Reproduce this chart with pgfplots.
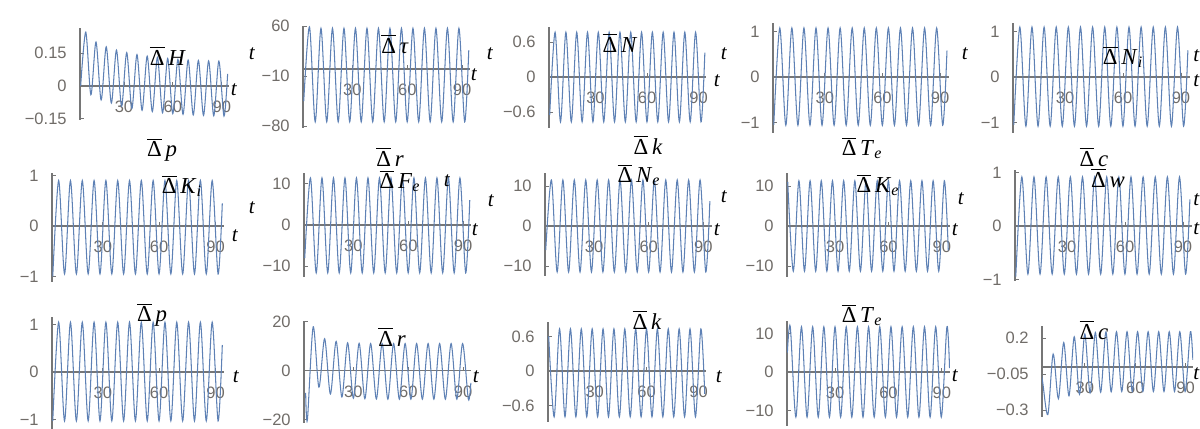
\documentclass[border=0pt]{standalone}
\usepackage{fontspec}
\setmainfont{Liberation Serif}
\newfontfamily\sansLS{Liberation Sans}
\usepackage{pgfplots}
\usepackage{pgfplotstable}
\pgfplotsset{compat=1.18}
\definecolor{mmablue}{RGB}{94,129,181}
\definecolor{axgray}{RGB}{118,118,118}
\definecolor{lblgray}{RGB}{112,108,104}
\newcommand{\tickfont}{\sansLS\fontsize{9.4}{10}\selectfont}
\newcommand{\db}{\ensuremath{\overline{\mbox{Δ}}}}

\pgfplotstableread{
t H tau N A Ni Ki Fe Ne Ke w p k
3.40 0.000 -45 -0.65 -1.05 -1.05 -1.00 -8.0 -6.0 11.0 -0.95 -1.03 0.60
6.54 0.245 59 0.77 1.08 1.10 0.90 11.4 11.5 -11.3 0.92 1.05 -0.80
9.68 -0.040 -74 -0.77 -1.06 -1.08 -0.95 -11.6 -11.5 11.3 -0.90 -1.03 0.73
12.82 0.200 57 0.77 1.08 1.10 0.90 11.4 11.5 -11.3 0.92 1.05 -0.80
15.97 -0.064 -74 -0.77 -1.06 -1.08 -0.95 -11.6 -11.5 11.3 -0.90 -1.03 0.73
19.11 0.178 57 0.77 1.08 1.10 0.90 11.4 11.5 -11.3 0.92 1.05 -0.80
22.25 -0.078 -74 -0.77 -1.06 -1.08 -0.95 -11.6 -11.5 11.3 -0.90 -1.03 0.73
25.39 0.163 57 0.77 1.08 1.10 0.90 11.4 11.5 -11.3 0.92 1.05 -0.80
28.53 -0.092 -74 -0.77 -1.06 -1.08 -0.95 -11.6 -11.5 11.3 -0.90 -1.03 0.73
31.67 0.152 57 0.77 1.08 1.10 0.90 11.4 11.5 -11.3 0.92 1.05 -0.80
34.82 -0.103 -74 -0.77 -1.06 -1.08 -0.95 -11.6 -11.5 11.3 -0.90 -1.03 0.73
37.96 0.143 57 0.77 1.08 1.10 0.90 11.4 11.5 -11.3 0.92 1.05 -0.80
41.10 -0.111 -74 -0.77 -1.06 -1.08 -0.95 -11.6 -11.5 11.3 -0.90 -1.03 0.73
44.24 0.136 57 0.77 1.08 1.10 0.90 11.4 11.5 -11.3 0.92 1.05 -0.80
47.38 -0.117 -74 -0.77 -1.06 -1.08 -0.95 -11.6 -11.5 11.3 -0.90 -1.03 0.73
50.52 0.130 57 0.77 1.08 1.10 0.90 11.4 11.5 -11.3 0.92 1.05 -0.80
53.67 -0.122 -74 -0.77 -1.06 -1.08 -0.95 -11.6 -11.5 11.3 -0.90 -1.03 0.73
56.81 0.125 57 0.77 1.08 1.10 0.90 11.4 11.5 -11.3 0.92 1.05 -0.80
59.95 -0.126 -74 -0.77 -1.06 -1.08 -0.95 -11.6 -11.5 11.3 -0.90 -1.03 0.73
63.09 0.121 57 0.77 1.08 1.10 0.90 11.4 11.5 -11.3 0.92 1.05 -0.80
66.23 -0.129 -74 -0.77 -1.06 -1.08 -0.95 -11.6 -11.5 11.3 -0.90 -1.03 0.73
69.37 0.118 57 0.77 1.08 1.10 0.90 11.4 11.5 -11.3 0.92 1.05 -0.80
72.51 -0.132 -74 -0.77 -1.06 -1.08 -0.95 -11.6 -11.5 11.3 -0.90 -1.03 0.73
75.66 0.116 57 0.77 1.08 1.10 0.90 11.4 11.5 -11.3 0.92 1.05 -0.80
78.80 -0.134 -74 -0.77 -1.06 -1.08 -0.95 -11.6 -11.5 11.3 -0.90 -1.03 0.73
81.94 0.114 57 0.77 1.08 1.10 0.90 11.4 11.5 -11.3 0.92 1.05 -0.80
85.08 -0.136 -74 -0.77 -1.06 -1.08 -0.95 -11.6 -11.5 11.3 -0.90 -1.03 0.73
88.22 0.113 57 0.77 1.08 1.10 0.90 11.4 11.5 -11.3 0.92 1.05 -0.80
91.36 -0.137 -74 -0.77 -1.06 -1.08 -0.95 -11.6 -11.5 11.3 -0.90 -1.03 0.73
93.60 0.055 26 0.42 0.58 0.59 0.45 6.0 6.2 -6.1 0.50 0.57 -0.40
}\dataA

\pgfplotstableread{
t r
3.90 -9.0
4.86 -20.0
8.00 17.8
11.14 -6.7
14.28 13.0
17.42 -9.5
20.57 11.9
23.71 -10.7
26.85 11.3
29.99 -11.2
33.13 11.1
36.27 -11.4
39.42 11.0
42.56 -11.5
45.70 11.0
48.84 -11.6
51.98 11.0
55.12 -11.6
58.27 11.0
61.41 -11.6
64.55 11.0
67.69 -11.6
70.83 11.0
73.97 -11.6
77.12 11.0
80.26 -11.6
83.40 11.0
86.54 -11.6
89.68 11.0
92.82 -11.6
94.20 -5.0
}\dataR

\pgfplotstableread{
t Te c
3.20 5.0 0.00
4.84 11.7 -0.10
7.98 -11.7 -0.33
11.12 11.7 0.09
14.27 -11.7 -0.22
17.41 11.7 0.17
20.55 -11.7 -0.20
23.69 11.7 0.21
26.83 -11.7 -0.19
29.97 11.7 0.23
33.12 -11.7 -0.18
36.26 11.7 0.24
39.40 -11.7 -0.175
42.54 11.7 0.243
45.68 -11.7 -0.172
48.82 11.7 0.245
51.97 -11.7 -0.17
55.11 11.7 0.245
58.25 -11.7 -0.17
61.39 11.7 0.245
64.53 -11.7 -0.17
67.67 11.7 0.245
70.81 -11.7 -0.17
73.96 11.7 0.245
77.10 -11.7 -0.17
80.24 11.7 0.245
83.38 -11.7 -0.17
86.52 11.7 0.245
89.66 -11.7 -0.17
92.81 11.7 0.245
94.30 1.0 0.05
}\dataB

\pgfplotsset{
  mma/.style={
    scale only axis, anchor=south west,
    axis x line=middle, axis y line=left,
    every inner x axis line/.append style={-},
    every outer x axis line/.append style={-},
    every inner y axis line/.append style={-},
    every outer y axis line/.append style={-},
    axis line style={draw=axgray, line width=0.8pt},
    xmin=3, xmax=94.5,
    xtick={30,60,90}, xticklabels={30,60,90},
    tick align=inside,
    major tick length=0.8mm,
    tick style={draw=axgray, line width=0.5pt},
    ticklabel style={font=\tickfont, text=lblgray},
    xticklabel style={anchor=center, yshift=-4.2mm},
    yticklabel style={anchor=east, inner sep=0pt, xshift=-2.6mm},
  },
  cv/.style={mmablue, line width=0.6pt, smooth, no marks},
}

\begin{document}
\begin{tikzpicture}[
  ttl/.style={font=\fontsize{13}{15}\selectfont, inner sep=0pt},
  tl/.style={font=\fontsize{12}{14}\selectfont, inner sep=0pt}]
\useasboundingbox (0,0) rectangle (240mm,85.8mm);

% Row 1
\begin{axis}[mma, at={(16.0mm,61.8mm)}, width=29.82mm, height=18.4mm,
  ymin=-0.155, ymax=0.264, ytick={-0.15,0,0.15}, yticklabels={−0.15,0,0.15}]
\addplot[cv] table[x=t,y=H]{\dataA};
\end{axis}
\begin{axis}[mma, at={(60.6mm,60.2mm)}, width=33.48mm, height=20.4mm,
  ymin=-82.6, ymax=60.2, ytick={-80,-10,60}, yticklabels={−80,−10,60}]
\addplot[cv] table[x=t,y=tau]{\dataA};
\end{axis}
\begin{axis}[mma, at={(109.8mm,60.2mm)}, width=31.48mm, height=20.2mm,
  ymin=-0.875, ymax=0.86, ytick={-0.6,0,0.6}, yticklabels={−0.6,0,0.6}]
\addplot[cv] table[x=t,y=N]{\dataA};
\end{axis}
\begin{axis}[mma, at={(154.6mm,59.2mm)}, width=35.14mm, height=22.0mm,
  ymin=-1.23, ymax=1.19, ytick={-1,0,1}, yticklabels={−1,0,1}]
\addplot[cv] table[x=t,y=A]{\dataA};
\end{axis}
\begin{axis}[mma, at={(202.6mm,59.2mm)}, width=35.32mm, height=22.0mm,
  ymin=-1.23, ymax=1.19, ytick={-1,0,1}, yticklabels={−1,0,1}]
\addplot[cv] table[x=t,y=Ni]{\dataA};
\end{axis}

% Row 2
\begin{axis}[mma, at={(10.4mm,29.4mm)}, width=34.4mm, height=21.8mm,
  ymin=-1.11, ymax=1.05, ytick={-1,0,1}, yticklabels={−1,0,1}]
\addplot[cv] table[x=t,y=Ki]{\dataA};
\end{axis}
\begin{axis}[mma, at={(60.8mm,30.4mm)}, width=33.48mm, height=20.8mm,
  ymin=-12.6, ymax=12.6, ytick={-10,0,10}, yticklabels={−10,0,10}]
\addplot[cv] table[x=t,y=Fe]{\dataA};
\end{axis}
\begin{axis}[mma, at={(109.0mm,30.6mm)}, width=33.3mm, height=20.6mm,
  ymin=-12.5, ymax=13.25, ytick={-10,0,10}, yticklabels={−10,0,10}]
\addplot[cv] table[x=t,y=Ne]{\dataA};
\end{axis}
\begin{axis}[mma, at={(157.4mm,30.4mm)}, width=32.58mm, height=20.8mm,
  ymin=-12.75, ymax=13.25, ytick={-10,0,10}, yticklabels={−10,0,10}]
\addplot[cv] table[x=t,y=Ke]{\dataA};
\end{axis}
\begin{axis}[mma, at={(203.0mm,29.6mm)}, width=35.32mm, height=22.2mm,
  ymin=-1.03, ymax=1.05, ytick={-1,0,1}, yticklabels={−1,0,1}]
\addplot[cv] table[x=t,y=w]{\dataA};
\end{axis}

% Row 3
\begin{axis}[mma, at={(10.4mm,0mm)}, width=34.4mm, height=22.4mm,
  ymin=-1.2, ymax=1.16, ytick={-1,0,1}, yticklabels={−1,0,1}]
\addplot[cv] table[x=t,y=p]{\dataA};
\end{axis}
\begin{axis}[mma, at={(60.8mm,1.2mm)}, width=33.48mm, height=20.4mm,
  ymin=-21.3, ymax=20.2, ytick={-20,0,20}, yticklabels={−20,0,20}]
\addplot[cv] table[x=t,y=r]{\dataR};
\end{axis}
\begin{axis}[mma, at={(109.6mm,1.4mm)}, width=31.66mm, height=20.0mm,
  ymin=-0.89, ymax=0.85, ytick={-0.6,0,0.6}, yticklabels={−0.6,0,0.6}]
\addplot[cv] table[x=t,y=k]{\dataA};
\end{axis}
\begin{axis}[mma, at={(157.4mm,0.6mm)}, width=32.58mm, height=21.0mm,
  ymin=-14.0, ymax=13.2, ytick={-10,0,10}, yticklabels={−10,0,10}]
\addplot[cv] table[x=t,y=Te]{\dataB};
\end{axis}
\begin{axis}[mma, at={(208.4mm,2.4mm)}, width=30.24mm, height=18.2mm, xmin=4.5,
  ymin=-0.347, ymax=0.285, ytick={-0.3,-0.05,0.2}, yticklabels={−0.3,−0.05,0.2}]
\addplot[cv] table[x=t,y=c]{\dataB};
\end{axis}

% titles
\node[ttl] at (33.6mm,74.6mm) {\db\,\textit{H}};
\node[ttl] at (79.0mm,77.0mm) {\db\,\textit{τ}};
\node[ttl] at (124.0mm,77.2mm) {\db\,\textit{N}};
\node[ttl] at (224.6mm,74.4mm) {\db\,\textit{N}\textsubscript{\textit{i}}};
\node[ttl] at (32.4mm,55.8mm) {\db\,\textit{p}};
\node[ttl] at (36.4mm,48.6mm) {\db\,\textit{K}\textsubscript{\textit{i}}};
\node[ttl] at (78.0mm,54.4mm) {\db\,\textit{r}};
\node[ttl] at (80.0mm,49.6mm) {\db\,\textit{F}\textsubscript{\textit{e}}};
\node[ttl] at (129.6mm,56.8mm) {\db\,\textit{k}};
\node[ttl] at (127.8mm,50.8mm) {\db\,\textit{N}\textsubscript{\textit{e}}};
\node[ttl] at (172.4mm,56.2mm) {\db\,\textit{T}\textsubscript{\textit{e}}};
\node[ttl] at (175.6mm,48.8mm) {\db\,\textit{K}\textsubscript{\textit{e}}};
\node[ttl] at (218.8mm,54.4mm) {\db\,\textit{c}};
\node[ttl] at (221.6mm,50.2mm) {\db\,\textit{w}};
\node[ttl] at (30.4mm,22.8mm) {\db\,\textit{p}};
\node[ttl] at (78.4mm,18.4mm) {\db\,\textit{r}};
\node[ttl] at (129.4mm,21.8mm) {\db\,\textit{k}};
\node[ttl] at (172.4mm,22.8mm) {\db\,\textit{T}\textsubscript{\textit{e}}};
\node[ttl] at (218.8mm,19.8mm) {\db\,\textit{c}};

% t labels
\foreach \x/\y in {46.8/67.8, 94.8/70.8, 143.4/69.6, 239.3/69.6,
  47.0/38.6, 95.0/39.8, 143.4/39.8, 191.0/39.8, 239.3/40.0,
  47.2/10.4, 95.2/10.4, 143.8/10.4, 191.0/10.6, 239.3/11.0,
  50.4/75.0, 98.0/75.0, 144.8/75.0, 193.0/75.0, 239.3/74.6,
  50.4/44.2, 89.4/49.6, 98.2/45.6, 144.8/46.4, 192.2/46.0, 239.3/45.8}
  {\node[tl] at (\x mm,\y mm) {\textit{t}};}
\end{tikzpicture}
\end{document}
